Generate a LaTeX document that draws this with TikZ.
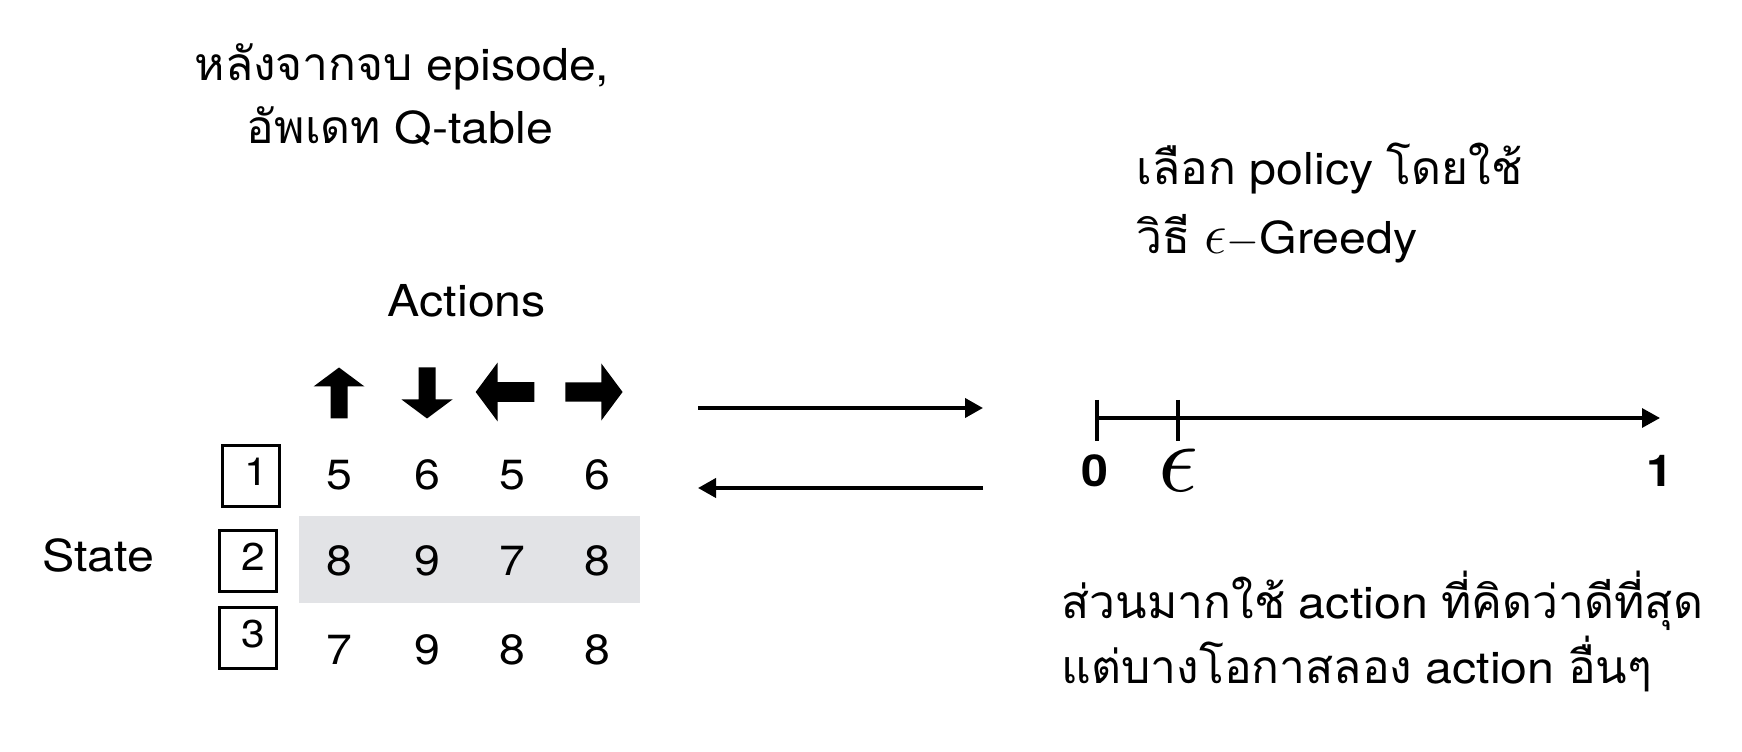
\documentclass[tikz,border=0pt]{standalone}
\usepackage{fontspec}
\setmainfont{TeX Gyre Heros}[FakeStretch=1.1]
\newfontfamily\thaifont[Script=Thai,Scale=1.05]{Loma}
\newcommand{\thai}[1]{{\thaifont #1}}
\usetikzlibrary{positioning}
\usetikzlibrary{arrows.meta}
\usepackage{xcolor}
\definecolor{bandgray}{RGB}{226,227,230}

\tikzset{
  txt/.style={font=\fontsize{12.5}{15}\selectfont, inner sep=0pt},
  num/.style={font=\fontsize{12}{14}\selectfont, inner sep=0pt},
  boxnum/.style={font=\fontsize{11}{13}\selectfont, inner sep=0pt},
  statebox/.style={draw, line width=0.6pt, minimum width=0.57cm, minimum height=0.61cm, inner sep=0pt},
  link/.style={line width=1.1pt, -{Triangle[length=0.18cm,width=0.19cm]}},
  tick/.style={line width=0.9pt},
}

% x, y, angle, scale
\newcommand{\actarrow}[4]{\fill[shift={(#1,#2)}, rotate=#3, scale=#4] (-25.5,-8.5)--(6.5,-8.5)--(6.5,-25.5)--(25.5,0)--(6.5,25.5)--(6.5,8.5)--(-25.5,8.5)--cycle;}

\begin{document}
\begin{tikzpicture}[x=0.01cm,y=-0.01cm]
\useasboundingbox (0,0) rectangle (1742,752);

\node[txt, anchor=base] (title1) at (402,81) {\thai{หลังจากจบ} episode,};
\node[txt, anchor=base] (title2) at (400,144) {\thai{อัพเดท} Q-table};

\begin{scope}{
\fill[bandgray] (299,516) rectangle (640,603);

\node[txt, anchor=base] (actions) at (467,317) {Actions};

\actarrow{339}{393}{90}{1}
\actarrow{427}{393}{-90}{1}
\actarrow{505}{392}{180}{1.15}
\actarrow{594}{392}{0}{1.12}

\node[num] (q11) at (339,475) {5};
\node[num] (q12) at (427,475) {6};
\node[num] (q13) at (512,475) {5};
\node[num] (q14) at (597,475) {6};

\node[num] (q21) at (339,561) {8};
\node[num] (q22) at (427,561) {9};
\node[num] (q23) at (512,561) {7};
\node[num] (q24) at (597,561) {8};

\node[num] (q31) at (339,650) {7};
\node[num] (q32) at (427,650) {9};
\node[num] (q33) at (512,650) {8};
\node[num] (q34) at (597,650) {8};

\node[statebox] (s1) at (251,476) {};
\node[statebox] (s2) at (248,561) {};
\node[statebox] (s3) at (248,638) {};
\node[boxnum] (s1num) at ([shift={(5,-4)}]s1.center) {1};
\node[boxnum] (s2num) at ([shift={(5,-4)}]s2.center) {2};
\node[boxnum] (s3num) at ([shift={(5,-4)}]s3.center) {3};

\node[txt, anchor=base] (state) at (98,572) {State};
} \end{scope}

\coordinate (fwdA) at (698,408);
\coordinate (fwdB) at (983,408);
\coordinate (backA) at (983,488);
\coordinate (backB) at (698,488);
\draw[link] (fwdA) -- (fwdB);
\draw[link] (backA) -- (backB);

\begin{scope}{
\node[txt, anchor=base west] (pol1) at (1136,185) {\thai{เลือก} policy \thai{โดยใช้}};
\node[txt, anchor=base west] (pol2) at (1136,254) {\thai{วิธี} \scalebox{1.35}{$\epsilon$}$-$Greedy};

\coordinate (n0) at (1097,418);
\coordinate (neps) at (1178,418);
\coordinate (n1) at (1660,418);
\draw[tick, -{Triangle[length=0.18cm,width=0.19cm]}] (n0) -- (n1);
\draw[tick] (n0) ++(0,-18) -- ++(0,41);
\draw[tick] (neps) ++(0,-18) -- ++(0,41);

\node[num, font=\fontsize{12.5}{14}\selectfont\bfseries] (zero) at (1095,471) {0};
\node[inner sep=0pt, scale=2.8] (eps) at (1178,470) {$\epsilon$};
\node[num, font=\fontsize{12.5}{14}\selectfont\bfseries] (one) at (1660,471) {1};

\node[txt, anchor=base west] (note1) at (1061,619) {\thai{ส่วนมากใช้} action \thai{ที่คิดว่าดีที่สุด}};
\node[txt, anchor=base west] (note2) at (1061,683) {\thai{แต่บางโอกาสลอง} action \thai{อื่นๆ}};
} \end{scope}

\end{tikzpicture}
\end{document}
